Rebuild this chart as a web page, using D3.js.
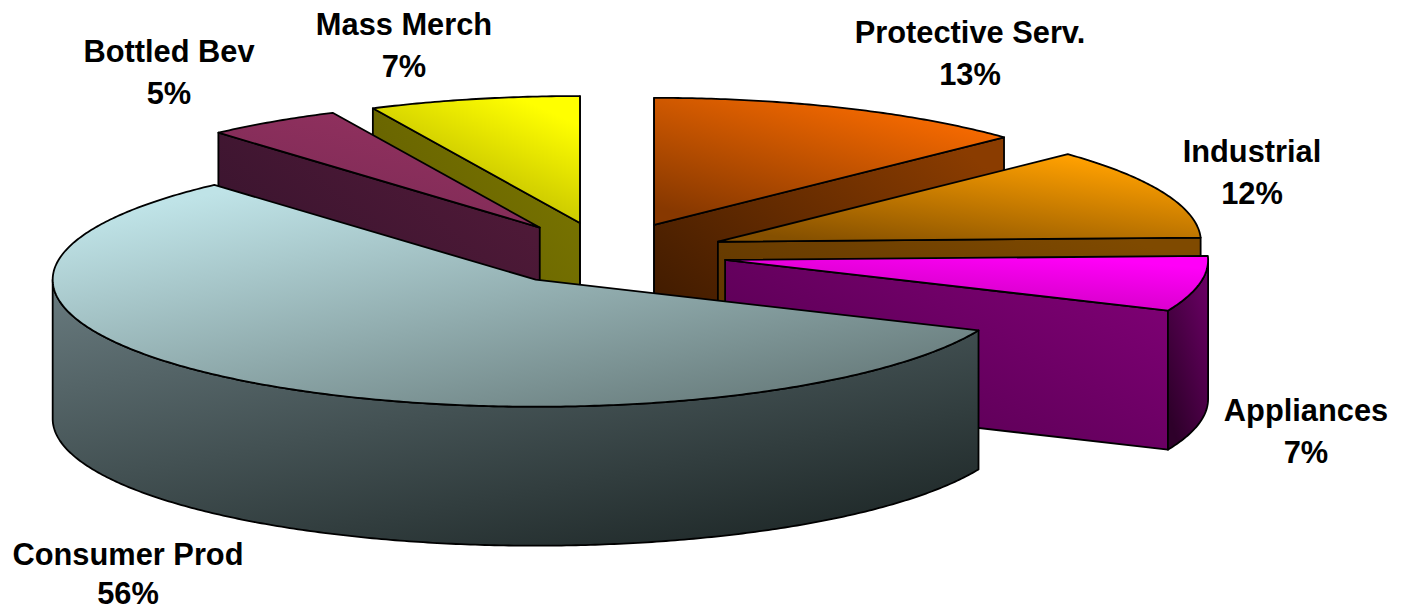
<!DOCTYPE html>
<html>
<head>
<meta charset="utf-8">
<script src="https://cdn.jsdelivr.net/npm/d3@7"></script>
<style>
  html, body { margin: 0; background: #fff; }
  svg { display: block; }
  text { font-family: "Liberation Sans", Arial, sans-serif; font-weight: bold; font-size: 30.8px; fill: #000; }
</style>
</head>
<body>
<figure id="chart" style="margin:0"></figure>
<script>
// values, labels show them rounded
const categories = ["Protective Serv.", "Industrial", "Appliances", "Consumer Prod", "Bottled Bev", "Mass Merch"];
const shares = [12.8, 11.5, 7.0, 56.45, 4.5, 7.0];

// Define the dimensions
const width = 1401, height = 611;
const center = { x: 606.5, y: 254 };
const radius = { x: 483, y: 127 };
const depth = 139;
const explode = 0.25;

// top face, radial wall, outer wall: [light, dark]
const colors = {
    "Protective Serv.": { top: ["#fb6c00", "#873800"], wall: ["#8a3c00", "#351600"], rim: ["#8a3c00", "#351600"] },
    "Industrial": { top: ["#ffa000", "#855000"], wall: ["#7f4a00", "#553000"], rim: ["#7f4a00", "#553000"] },
    "Appliances": { top: ["#ff00f8", "#c400b4"], wall: ["#7e0074", "#4e004a"], rim: ["#70006a", "#2e002a"] },
    "Consumer Prod": { top: ["#bfe3e7", "#647777"], wall: ["#3f4a4a", "#222c2c"], rim: ["#66787c", "#202a2a"] },
    "Bottled Bev": { top: ["#93315f", "#7a2a55"], wall: ["#521a39", "#30122a"], rim: ["#521a39", "#30122a"] },
    "Mass Merch": { top: ["#ffff00", "#a8a400"], wall: ["#7a7500", "#5c5900"], rim: ["#7a7500", "#5c5900"] },
};

// unit circle to pixels
const xScale = d3.scaleLinear().domain([-1, 1]).range([center.x - radius.x, center.x + radius.x]);
const yScale = d3.scaleLinear().domain([-1, 1]).range([center.y + radius.y, center.y - radius.y]);

const pie = d3.pie().sort(null).value(d => d.share);
const slices = pie(categories.map((c, i) => ({ name: c, share: shares[i] })));

const svg = d3.select("figure#chart").append("svg")
    .attr("width", width)
    .attr("height", height)
    .attr("viewBox", `0 0 ${width} ${height}`);

const defs = svg.append("defs");

function addGradient(id, pair, dir) {
    const g = defs.append("linearGradient").attr("id", id)
        .attr("x1", dir[0]).attr("y1", dir[1]).attr("x2", dir[2]).attr("y2", dir[3]);
    g.append("stop").attr("offset", "0%").attr("stop-color", pair[0]);
    g.append("stop").attr("offset", "100%").attr("stop-color", pair[1]);
    return `url(#${id})`;
}

const line = d3.line();

function arcAngles(a0, a1) {
    const n = Math.max(2, Math.ceil((a1 - a0) / 0.01));
    return d3.range(n + 1).map(i => a0 + (a1 - a0) * i / n);
}

// draw order back to front
const order = ["Mass Merch", "Bottled Bev", "Protective Serv.", "Industrial", "Appliances", "Consumer Prod"];

// gradient directions, light end first
const topDir = {
    "Consumer Prod": [0.1, 0.1, 0.85, 1],
};
const defaultTopDir = [0.85, 0.12, 0.2, 1];

order.forEach((name, idx) => {
    const s = slices.find(d => d.data.name === name);
    const mid = (s.startAngle + s.endAngle) / 2;
    const ox = Math.sin(mid) * explode, oy = Math.cos(mid) * explode;
    const px = (a, r) => [xScale(ox + Math.sin(a) * r), yScale(oy + Math.cos(a) * r)];
    const down = p => [p[0], p[1] + depth];
    const c = colors[name];
    const g = svg.append("g").attr("class", "slice");

    const apex = px(0, 0);
    const startP = px(s.startAngle, 1), endP = px(s.endAngle, 1);

    // radial walls, only the ones facing the viewer
    const wallFill = addGradient(`wall${idx}`, c.wall, [1, 0.2, 0, 1]);
    const facing = [];
    if (Math.sin(s.startAngle) < 0 || s.startAngle === 0) facing.push(startP);
    if (Math.sin(s.endAngle) > 0) facing.push(endP);
    facing.forEach(p => {
        g.append("path")
            .attr("d", line([apex, p, down(p), down(apex)]) + "Z")
            .attr("fill", wallFill)
            .attr("stroke", "#000")
            .attr("stroke-width", 1.8)
            .attr("stroke-linejoin", "round");
    });

    // outer wall, only the part facing the viewer
    const a0 = Math.max(s.startAngle, Math.PI / 2);
    const a1 = Math.min(s.endAngle, Math.PI * 1.5);
    if (a1 > a0) {
        const rimTop = arcAngles(a0, a1).map(a => px(a, 1));
        const rimDir = name === "Consumer Prod" ? [0.1, 0, 0.75, 1] : [1, 0, 0.3, 1];
        g.append("path")
            .attr("d", line(rimTop.concat(rimTop.map(down).reverse())) + "Z")
            .attr("fill", addGradient(`rim${idx}`, c.rim, rimDir))
            .attr("stroke", "#000")
            .attr("stroke-width", 1.8)
            .attr("stroke-linejoin", "round");
    }

    // top face
    const face = [apex].concat(arcAngles(s.startAngle, s.endAngle).map(a => px(a, 1)));
    g.append("path")
        .attr("d", line(face) + "Z")
        .attr("fill", addGradient(`top${idx}`, c.top, topDir[name] || defaultTopDir))
        .attr("stroke", "#000")
        .attr("stroke-width", 1.8)
        .attr("stroke-linejoin", "round");
});

// labels
const labelAt = {
    "Protective Serv.": [970, 43],
    "Industrial": [1252, 162],
    "Appliances": [1306, 421],
    "Consumer Prod": [128, 565],
    "Bottled Bev": [169, 62],
    "Mass Merch": [404, 35],
};

slices.forEach(s => {
    const at = labelAt[s.data.name];
    const t = svg.append("text").attr("text-anchor", "middle");
    t.append("tspan").attr("x", at[0]).attr("y", at[1]).text(s.data.name);
    // keep the last line inside the picture
    t.append("tspan").attr("x", at[0]).attr("y", Math.min(at[1] + 41.5, height - 7)).text(Math.round(s.data.share) + "%");
});
</script>
</body>
</html>
